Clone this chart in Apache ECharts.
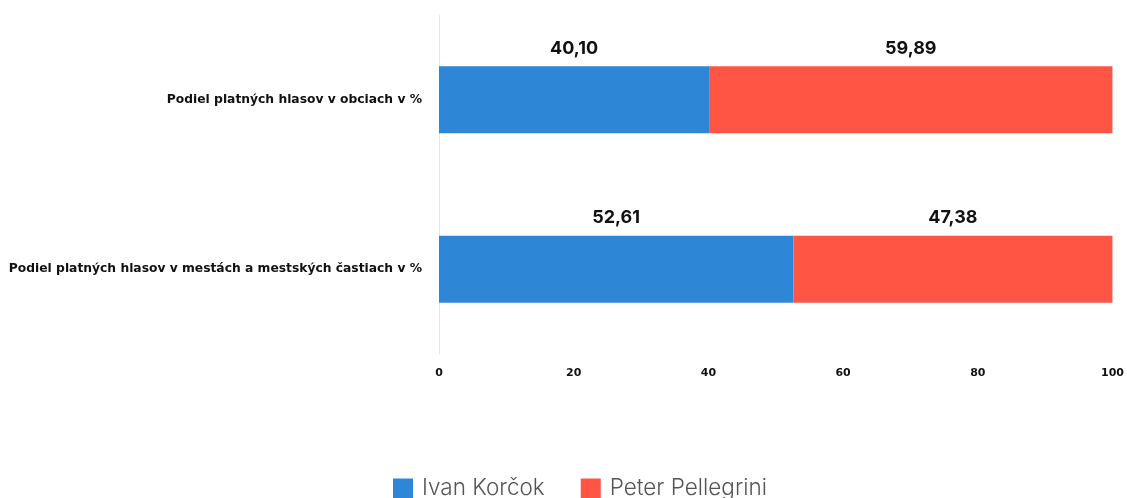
<!DOCTYPE html>
<html><head><meta charset="utf-8">
<script src="https://cdn.jsdelivr.net/npm/echarts@6/dist/echarts.min.js"></script>
<style>html,body{margin:0;padding:0;background:#fff}#c{width:1127px;height:498px}</style>
</head><body><div id="c"></div>
<script>
const categories = ["Podiel platných hlasov v obciach v %", "Podiel platných hlasov v mestách a mestských častiach v %"];
const korcok = [40.10, 52.61];
const pellegrini = [59.89, 47.38];
const seriesNames = ["Ivan Korčok", "Peter Pellegrini"];
const xTicks = [0, 20, 40, 60, 80, 100];

const fmt = v => v.toFixed(2).replace('.', ',');
const chart = echarts.init(document.getElementById('c'));
const labelCfg = {
  show: true, position: 'top', distance: 9,
  formatter: p => fmt(p.value),
  fontFamily: 'Inter', fontWeight: 'bold', fontSize: 18, color: '#111'
};
chart.setOption({
  animation: false,
  grid: { left: 439, right: 14, top: 15, bottom: 144, containLabel: false },
  legend: {
    top: 477, left: 393, itemWidth: 20, itemHeight: 20, itemGap: 36, padding: 0,
    icon: 'rect',
    textStyle: { fontFamily: 'Inter', fontSize: 22.5, fontWeight: 300, color: '#555', lineHeight: 20, padding: [0, 0, 0, 4] },
    data: seriesNames
  },
  xAxis: {
    type: 'value', min: 0, max: 100, interval: 20,
    splitLine: { show: false },
    axisLine: { show: false }, axisTick: { show: false },
    axisLabel: { margin: 14, fontFamily: 'DejaVu Sans', fontWeight: 'bold', fontSize: 11, color: '#111',
      formatter: v => xTicks.includes(v) ? String(v) : '' }
  },
  yAxis: {
    type: 'category', inverse: true, data: categories,
    axisLine: { show: true, lineStyle: { color: '#e6e6e6', width: 1 } },
    axisTick: { show: false },
    axisLabel: { margin: 17, fontFamily: 'DejaVu Sans', fontWeight: 'bold', fontSize: 12.3, color: '#111' }
  },
  series: [
    { name: seriesNames[0], type: 'bar', stack: 't', data: korcok, barWidth: 67,
      itemStyle: { color: '#2E86D6' }, label: labelCfg },
    { name: seriesNames[1], type: 'bar', stack: 't', data: pellegrini, barWidth: 67,
      itemStyle: { color: '#FF5545' }, label: labelCfg }
  ]
});
</script></body></html>
